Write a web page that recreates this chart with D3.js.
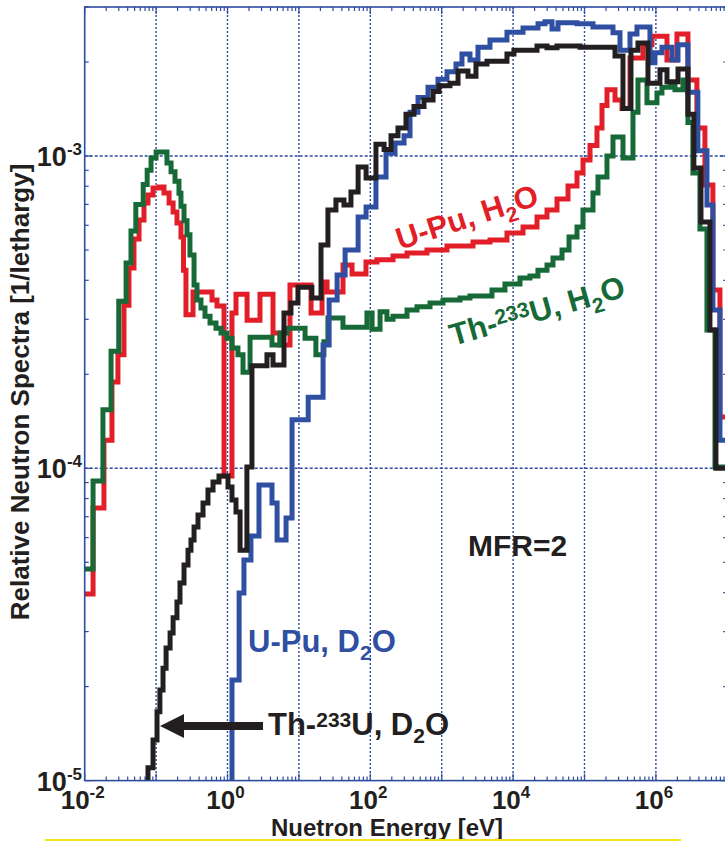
<!DOCTYPE html>
<html>
<head>
<meta charset="utf-8">
<script src="https://cdn.jsdelivr.net/npm/d3@7"></script>
<style>
  body { margin: 0; background: #fff; }
  text { font-family: "Liberation Sans", Arial, Helvetica, sans-serif; font-weight: bold; }
</style>
</head>
<body>
<svg id="chart" width="725" height="841"></svg>
<script>
// group spectra, MFR=2 : each pair is [lower group edge (eV), flux per lethargy]
var upuH2O = [[0.01,3.96e-5],[0.0131,7.46e-5],[0.0186,1.23e-4],[0.0241,1.89e-4],[0.0292,2.31e-4],[0.0355,3.33e-4],
  [0.0417,4.38e-4],[0.049,5.42e-4],[0.0577,6.24e-4],[0.0677,7.07e-4],[0.077,7.5e-4],[0.0906,7.9e-4],[0.11,7.96e-4],
  [0.129,7.61e-4],[0.152,7.07e-4],[0.173,6.62e-4],[0.196,6.1e-4],[0.223,5.5e-4],[0.242,4.31e-4],[0.262,3.1e-4],
  [0.329,3.67e-4],[0.607,3.46e-4],[0.713,3.31e-4],[0.894,9.45e-5],[1.156,3.14e-4],[1.315,3.61e-4],[1.88,2.98e-4],
  [2.85,3.61e-4],[4.34,2.71e-4],[5.43,2.48e-4],[7.5,3.86e-4],[14.8,3.14e-4],[21.1,3.95e-4],[24.8,3.67e-4],
  [41.5,4.48e-4],[55.5,4.19e-4],[87,4.58e-4],[124,4.65e-4],[208,4.78e-4],[327,4.89e-4],[622,5.0e-4],[1186,5.15e-4],
  [2742,5.3e-4],[4745,5.38e-4],[8204,5.67e-4],[13770,5.92e-4],[21630,6.38e-4],[29850,6.72e-4],[41210,7.28e-4],
  [58750,8.01e-4],[78520,8.82e-4],[95260,9.71e-4],[119400,1.08e-3],[149600,1.23e-3],[175800,1.45e-3],
  [206500,1.63e-3],[267500,1.51e-3],[335000,1.42e-3],[433500,2.06e-3],[659000,2.27e-3],[881000,2.42e-3],
  [1.43e6,2.03e-3],[1.97e6,2.46e-3],[2.81e6,1.75e-3],[3.75e6,1.23e-3],[4.86e6,8.07e-4],[6.29e6,3.72e-4],[7.89e6,1.46e-4]];

var thH2O = [[0.01,4.76e-5],[0.0131,9.1e-5],[0.018,1.54e-4],[0.0234,2.37e-4],[0.030,3.43e-4],[0.038,4.54e-4],
  [0.0445,5.75e-4],[0.052,7.0e-4],[0.066,8.1e-4],[0.075,9.0e-4],[0.085,9.85e-4],[0.1,1.03e-3],[0.142,9.5e-4],
  [0.162,8.9e-4],[0.184,8.3e-4],[0.209,7.6e-4],[0.223,6.9e-4],[0.246,6.2e-4],[0.271,5.6e-4],[0.298,4.82e-4],
  [0.34,3.86e-4],[0.374,3.46e-4],[0.425,3.26e-4],[0.484,3.07e-4],[0.569,2.92e-4],[0.69,2.81e-4],[0.811,2.71e-4],
  [0.984,2.61e-4],[1.156,2.43e-4],[1.40,2.31e-4],[1.65,2.03e-4],[2.07,2.63e-4],[4.2,2.48e-4],[5.43,2.71e-4],
  [6.81,2.81e-4],[12.2,2.61e-4],[17.3,2.31e-4],[22.4,2.54e-4],[25.5,3.03e-4],[41.4,2.83e-4],[89.7,3.14e-4],
  [106,2.79e-4],[137,3.17e-4],[171,3.0e-4],[208,3.07e-4],[327,3.21e-4],[451,3.29e-4],[686,3.38e-4],[1042,3.46e-4],
  [1803,3.51e-4],[2489,3.56e-4],[5058,3.72e-4],[7691,3.89e-4],[12480,4.07e-4],[17220,4.13e-4],[22280,4.31e-4],
  [29850,4.48e-4],[36220,4.71e-4],[48420,5.0e-4],[60690,5.5e-4],[78520,5.92e-4],[95260,6.72e-4],[131500,7.61e-4],
  [154500,8.57e-4],[206500,1.0e-3],[250600,1.15e-3],[346000,9.85e-4],[477500,1.38e-3],[561000,1.75e-3],
  [749900,1.48e-3],[1.035e6,1.59e-3],[1.216e6,1.66e-3],[1.574e6,1.71e-3],[1.849e6,1.63e-3],[2.39e6,1.75e-3],
  [2.81e6,1.28e-3],[3.30e6,8.82e-4],[4.14e6,5.84e-4],[5.19e6,2.77e-4],[6.72e6,1.01e-4]];

var upuD2O = [[1.156,2.1e-5],[1.455,3.99e-5],[1.70,5.09e-5],[2.13,6.07e-5],[2.76,8.84e-5],[4.2,7.74e-5],
  [4.95,5.89e-5],[6.61,6.93e-5],[8.02,1.43e-4],[13.5,1.69e-4],[21.8,2.48e-4],[26.5,3.46e-4],[34.3,4.16e-4],
  [44.4,5.0e-4],[67.5,6.38e-4],[87.3,6.87e-4],[120,8.57e-4],[166,1.02e-3],[222,1.1e-3],[297,1.16e-3],[360,1.38e-3],
  [466,1.54e-3],[643,1.66e-3],[887,1.76e-3],[1186,1.86e-3],[1585,1.97e-3],[1923,2.12e-3],[2489,2.03e-3],
  [3221,2.23e-3],[4745,2.35e-3],[8204,2.49e-3],[13770,2.57e-3],[22340,2.65e-3],[28000,2.69e-3],[35080,2.55e-3],
  [42560,2.67e-3],[78520,2.65e-3],[131500,2.59e-3],[250600,2.48e-3],[314100,2.18e-3],[433500,2.46e-3],
  [543000,2.59e-3],[826000,1.99e-3],[970000,2.14e-3],[1.216e6,2.23e-3],[1.68e6,2.03e-3],[2.04e6,2.27e-3],
  [2.81e6,1.6e-3],[3.87e6,1.04e-3],[5.19e6,6.97e-4],[6.29e6,3.21e-4],[7.89e6,1.23e-4]];

var thD2O = [[0.077,1.1e-5],[0.0906,1.35e-5],[0.103,1.66e-5],[0.113,1.95e-5],[0.125,2.29e-5],[0.138,2.66e-5],
  [0.157,2.97e-5],[0.173,3.32e-5],[0.196,3.73e-5],[0.216,4.29e-5],[0.246,4.9e-5],[0.28,5.47e-5],[0.308,5.89e-5],
  [0.34,6.49e-5],[0.386,7.09e-5],[0.454,7.74e-5],[0.533,8.52e-5],[0.627,9.04e-5],[0.76,9.45e-5],[1.016,8.71e-5],
  [1.156,7.92e-5],[1.315,7.24e-5],[1.50,5.47e-5],[1.87,1.01e-4],[2.2,2.13e-4],[3.57,2.31e-4],[4.34,2.14e-4],
  [6.18,3.14e-4],[7.74,3.38e-4],[9.7,3.8e-4],[15.2,3.51e-4],[20.4,5.19e-4],[25.5,6.72e-4],[33,7.23e-4],
  [42.8,6.97e-4],[53.6,7.67e-4],[67.5,9.22e-4],[87.3,8.5e-4],[120,1.09e-3],[156,1.05e-3],[195,1.16e-3],
  [244,1.23e-3],[316,1.36e-3],[409,1.44e-3],[565,1.51e-3],[757,1.61e-3],[918,1.68e-3],[1306,1.71e-3],
  [1694,1.87e-3],[2335,1.8e-3],[3020,1.97e-3],[4305,2.01e-3],[8204,2.12e-3],[10280,2.18e-3],[21630,2.25e-3],
  [29850,2.22e-3],[41210,2.25e-3],[86500,2.23e-3],[267500,2.09e-3],[346000,1.42e-3],[447700,2.18e-3],
  [561000,2.3e-3],[774400,1.71e-3],[1.14e6,1.89e-3],[1.43e6,1.73e-3],[2.04e6,1.9e-3],[2.81e6,1.36e-3],
  [3.40e6,9.15e-4],[4.28e6,6.15e-4],[5.71e6,2.77e-4],[6.93e6,1.0e-4]];

var xTickExp = [-2, 0, 2, 4, 6];
var yTickExp = [-5, -4, -3];
var xGridExp = [-1, 0, 1, 2, 3, 4, 5, 6];
var yGridExp = [-4, -3];

var axisBlue = "#2d4b9f";
var svg = d3.select("#chart");

var x = d3.scaleLog().domain([1e-2, 1e7]).range([84.7, 727.3]);
var y = d3.scaleLog().domain([1e-5, 3e-3]).range([780.6, 7]);
var x0 = x.range()[0], x1 = x.range()[1], yb = y.range()[0], yt = y.range()[1];

// grid
svg.append("g").selectAll("line").data(xGridExp).enter().append("line")
  .attr("x1", d => x(Math.pow(10, d))).attr("x2", d => x(Math.pow(10, d)))
  .attr("y1", yt).attr("y2", yb)
  .attr("stroke", axisBlue).attr("stroke-width", 1.4).attr("stroke-dasharray", "2,2");
svg.append("g").selectAll("line").data(yGridExp).enter().append("line")
  .attr("y1", d => y(Math.pow(10, d))).attr("y2", d => y(Math.pow(10, d)))
  .attr("x1", x0).attr("x2", x1)
  .attr("stroke", axisBlue).attr("stroke-width", 1.4).attr("stroke-dasharray", "3,2");

// ticks on all four sides
var xt = [], yt2 = [];
for (var k = -2; k < 7; k++) for (var m = 1; m < 10; m++) xt.push({v: m * Math.pow(10, k), major: m == 1});
for (var k = -5; k < -2; k++) for (var m = 1; m < 10; m++) {
  if (m * Math.pow(10, k) <= 3e-3) yt2.push({v: m * Math.pow(10, k), major: m == 1});
}
var tk = svg.append("g").attr("stroke", axisBlue).attr("stroke-width", 1.2);
xt.forEach(function(t) {
  var len = t.major ? 7 : 4;
  tk.append("line").attr("x1", x(t.v)).attr("x2", x(t.v)).attr("y1", yb).attr("y2", yb - len);
  tk.append("line").attr("x1", x(t.v)).attr("x2", x(t.v)).attr("y1", yt).attr("y2", yt + len);
});
yt2.forEach(function(t) {
  var len = t.major ? 7 : 4;
  tk.append("line").attr("y1", y(t.v)).attr("y2", y(t.v)).attr("x1", x0).attr("x2", x0 + len);
  tk.append("line").attr("y1", y(t.v)).attr("y2", y(t.v)).attr("x1", x1).attr("x2", x1 - len);
});

// spectra
svg.append("clipPath").attr("id", "plotclip").append("rect")
  .attr("x", x0).attr("y", yt).attr("width", x1 - x0).attr("height", yb - yt);

var series = [
  {data: upuH2O, color: "#e21f28"},
  {data: thH2O, color: "#176a37"},
  {data: upuD2O, color: "#2f4fa2", below: true},
  {data: thD2O, color: "#231f20", below: true}
];
var line = d3.line().x(d => x(d[0])).y(d => y(d[1])).curve(d3.curveStepAfter);

var g = svg.append("g").attr("clip-path", "url(#plotclip)");
series.forEach(function(s) {
  var pts = s.data.slice();
  if (s.below) pts.unshift([pts[0][0], y.domain()[0] * 0.5]);
  pts.push([x.domain()[1], pts[pts.length - 1][1]]);
  g.append("path").attr("d", line(pts))
    .attr("fill", "none").attr("stroke", s.color).attr("stroke-width", 5)
    .attr("stroke-linejoin", "miter");
});

// frame
svg.append("rect").attr("x", x0).attr("y", yt).attr("width", x1 - x0).attr("height", yb - yt)
  .attr("fill", "none").attr("stroke", axisBlue).attr("stroke-width", 1.6);

// tick labels
function powLabel(sel, e, size) {
  sel.append("tspan").attr("font-size", size).text("10");
  sel.append("tspan").attr("font-size", 17).attr("dy", -11).text(e);
}
svg.append("g").selectAll("text").data(yTickExp).enter().append("text")
  .attr("x", 82).attr("y", d => y(Math.pow(10, d)) + 10)
  .attr("text-anchor", "end").attr("fill", "#231f20")
  .each(function(d) { powLabel(d3.select(this), d, 27); });
svg.append("g").selectAll("text").data(xTickExp).enter().append("text")
  .attr("x", d => x(Math.pow(10, d)) - 2).attr("y", 809)
  .attr("text-anchor", "middle").attr("fill", "#231f20")
  .each(function(d) { powLabel(d3.select(this), d, 26); });

// axis titles
svg.append("text").attr("x", 387).attr("y", 836).attr("text-anchor", "middle")
  .attr("font-size", 24).attr("fill", "#231f20").text("Nuetron Energy [eV]");
svg.append("text").attr("transform", "translate(29,392) rotate(-90)").attr("text-anchor", "middle")
  .attr("font-size", 26).attr("fill", "#231f20").text("Relative Neutron Spectra [1/lethargy]");

// annotations
function label(parts, attrs) {
  var t = svg.append("text").attr("font-size", 31);
  Object.keys(attrs).forEach(k => t.attr(k, attrs[k]));
  parts.forEach(function(p) {
    var ts = t.append("tspan").text(p[0]);
    if (p[1]) ts.attr("font-size", p[1]);
    if (p[2]) ts.attr("dy", p[2]);
  });
  return t;
}
label([["U-Pu, H"], ["2", 21, 8], ["O", null, -8]],
  {transform: "translate(400,250) rotate(-18)", fill: "#e21f28"});
label([["Th-"], ["233", 21, -8], ["U, H", null, 8], ["2", 21, 8], ["O", null, -8]],
  {transform: "translate(453,346) rotate(-16)", fill: "#176a37"});
label([["MFR=2"]], {x: 468, y: 556, "font-size": 30, fill: "#231f20"});
label([["U-Pu, D"], ["2", 21, 8], ["O", null, -8]], {x: 248, y: 652, fill: "#2f4fa2"});
label([["Th-"], ["233", 21, -8], ["U, D", null, 8], ["2", 21, 8], ["O", null, -8]],
  {x: 268, y: 735, fill: "#231f20"});

// arrow pointing at the Th-233U, D2O curve
svg.append("line").attr("x1", 263).attr("x2", 180).attr("y1", 726).attr("y2", 726)
  .attr("stroke", "#231f20").attr("stroke-width", 8);
svg.append("path").attr("d", "M160,726 L184,714 L184,738 Z").attr("fill", "#231f20");

// yellow rule at the bottom
svg.append("line").attr("x1", 45).attr("x2", 681).attr("y1", 840).attr("y2", 840)
  .attr("stroke", "#f2e31b").attr("stroke-width", 2);
</script>
</body>
</html>
